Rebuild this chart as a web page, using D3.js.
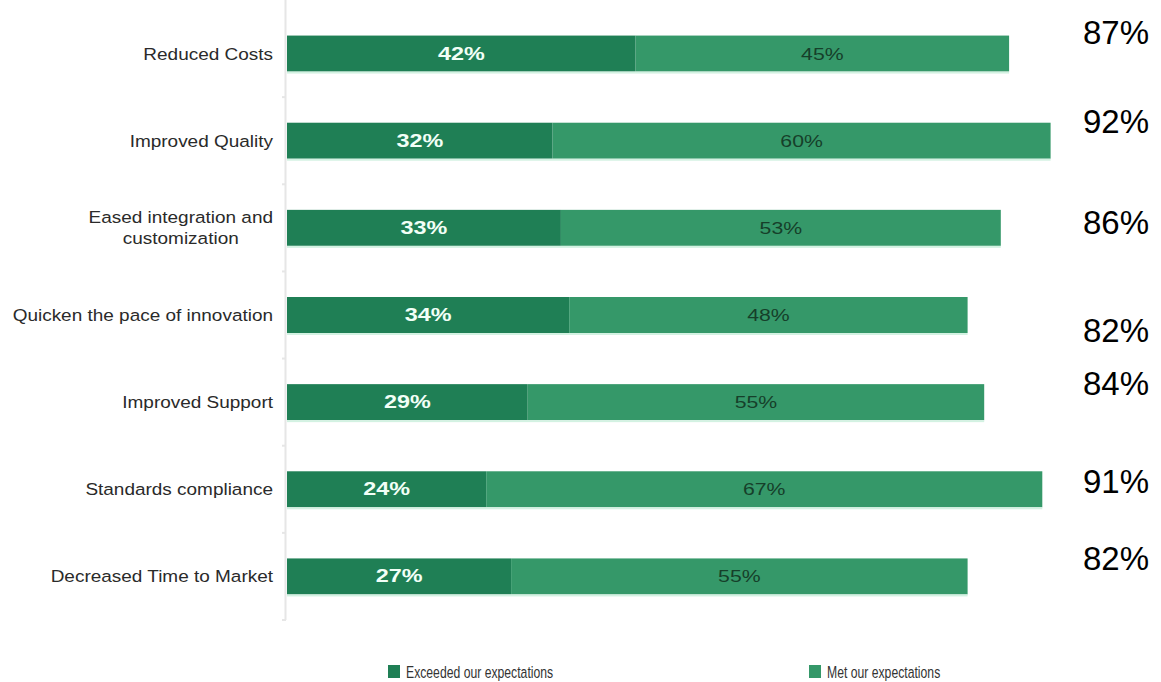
<!DOCTYPE html>
<html>
<head>
<meta charset="utf-8">
<script src="https://cdn.jsdelivr.net/npm/d3@7"></script>
<style>
  html, body { margin: 0; padding: 0; background: #fff; }
  svg { display: block; }
</style>
</head>
<body>
<svg id="chart" width="1161" height="682"></svg>
<script>
// ---- data ----
const categories = [
  "Reduced Costs",
  "Improved Quality",
  "Eased integration and customization",
  "Quicken the pace of innovation",
  "Improved Support",
  "Standards compliance",
  "Decreased Time to Market"
];
const exceeded = [42, 32, 33, 34, 29, 24, 27];
const met = [45, 60, 53, 48, 55, 67, 55];
const totals = [87, 92, 86, 82, 84, 91, 82];
const seriesNames = ["Exceeded our expectations", "Met our expectations"];

// ---- layout ----
const colors = ["#1f7f55", "#359869"];
const FONT = "Liberation Sans, Arial, sans-serif";
const svg = d3.select("#chart");

const x = d3.scaleLinear().domain([0, 100]).range([287, 1117]);
const y = d3.scalePoint().domain(categories).range([10, 620]).padding(0.5);
const barH = 36;

// text drawn with a horizontal stretch around its anchor point
function stretchedText(parent, px, py, sx, txt, anchor) {
  return parent.append("text")
    .attr("transform", `translate(${px},${py}) scale(${sx},1)`)
    .attr("text-anchor", anchor || "start")
    .attr("font-family", FONT)
    .text(txt);
}

// axis line with ticks at category boundaries
const step = y.step();
svg.append("line")
  .attr("x1", 285.5).attr("x2", 285.5)
  .attr("y1", 0).attr("y2", y(categories[categories.length - 1]) + step / 2)
  .attr("stroke", "#e6e6e6").attr("stroke-width", 2);
categories.forEach((c) => {
  const yy = y(c) + step / 2;
  svg.append("line")
    .attr("x1", 282).attr("x2", 286)
    .attr("y1", yy).attr("y2", yy)
    .attr("stroke", "#e6e6e6").attr("stroke-width", 2);
});

// bars
const g = svg.append("g");
categories.forEach((c, i) => {
  const cy = y(c);
  g.append("rect")
    .attr("x", x(0)).attr("y", cy - barH / 2)
    .attr("width", x(exceeded[i]) - x(0)).attr("height", barH)
    .attr("fill", colors[0]);
  g.append("rect")
    .attr("x", x(exceeded[i])).attr("y", cy - barH / 2)
    .attr("width", x(exceeded[i] + met[i]) - x(exceeded[i])).attr("height", barH)
    .attr("fill", colors[1]);
  // faint light edge under the bar
  g.append("rect")
    .attr("x", x(0)).attr("y", cy + barH / 2)
    .attr("width", x(exceeded[i] + met[i]) - x(0)).attr("height", 2)
    .attr("fill", "#d3f2e2");
  stretchedText(g, (x(0) + x(exceeded[i])) / 2, cy + 6, 1.3, exceeded[i] + "%", "middle")
    .attr("font-size", 18).attr("font-weight", "bold").attr("fill", "#f2fff7");
  stretchedText(g, (x(exceeded[i]) + x(exceeded[i] + met[i])) / 2, cy + 6, 1.25, met[i] + "%", "middle")
    .attr("font-size", 17).attr("fill", "#163f2a");
});

// category labels
const labelLines = {
  "Eased integration and customization": ["Eased integration and", "customization"]
};
const labelRight = 273, labelScale = 1.15;
categories.forEach((c) => {
  const lines = labelLines[c] || [c];
  const lh = 21;
  const y0 = y(c) + 6 - (lines.length - 1) * lh / 2;
  const first = stretchedText(svg, labelRight, y0, labelScale, lines[0], "end")
    .attr("font-size", 16.5).attr("fill", "#2a2a2a");
  if (lines.length > 1) {
    // following lines centred under the first one
    const w = first.node().getComputedTextLength() * labelScale;
    const cx = labelRight - w / 2;
    lines.slice(1).forEach((ln, k) => {
      stretchedText(svg, cx, y0 + (k + 1) * lh, labelScale, ln, "middle")
        .attr("font-size", 16.5).attr("fill", "#2a2a2a");
    });
  }
});

// total labels (placed beside bars, as in the source image)
const totalNudge = [-10, -8, 6, 27, -7, 4, -6];
categories.forEach((c, i) => {
  svg.append("text")
    .attr("x", 1083).attr("y", y(c) + totalNudge[i])
    .attr("font-family", FONT)
    .attr("font-size", 33)
    .attr("fill", "#000")
    .text(totals[i] + "%");
});

// legend
const legendX = [388, 809];
seriesNames.forEach((s, i) => {
  svg.append("rect")
    .attr("x", legendX[i]).attr("y", 665)
    .attr("width", 12).attr("height", 13)
    .attr("fill", colors[i]);
  stretchedText(svg, legendX[i] + 18, 678, 0.74, s, "start")
    .attr("font-size", 16.5).attr("fill", "#333");
});
</script>
</body>
</html>
